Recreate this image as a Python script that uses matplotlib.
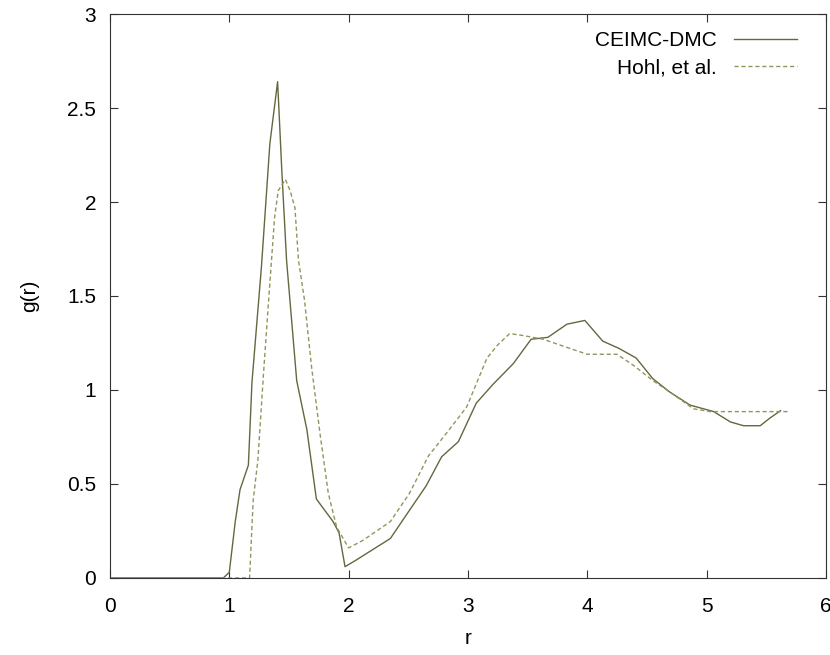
import matplotlib.pyplot as plt

plt.rcParams['font.family'] = ['Liberation Sans', 'DejaVu Sans']

# CEIMC-DMC g(r)
r_dmc = [0.0, 0.95, 1.0, 1.05, 1.09, 1.16, 1.19, 1.27, 1.34, 1.405, 1.44, 1.48,
         1.565, 1.65, 1.73, 1.87, 1.92, 1.97, 2.05, 2.15, 2.35, 2.51, 2.65, 2.78,
         2.92, 3.07, 3.21, 3.38, 3.53, 3.67, 3.83, 3.98, 4.13, 4.27, 4.41, 4.55,
         4.69, 4.86, 5.06, 5.2, 5.31, 5.45, 5.53, 5.62]
g_dmc = [0.0, 0.0, 0.03, 0.3, 0.47, 0.6, 1.04, 1.66, 2.31, 2.64, 2.17, 1.69,
         1.05, 0.79, 0.42, 0.3, 0.24, 0.06, 0.09, 0.13, 0.21, 0.36, 0.49, 0.645,
         0.725, 0.93, 1.03, 1.14, 1.27, 1.28, 1.35, 1.37, 1.26, 1.22, 1.17, 1.06,
         0.99, 0.92, 0.885, 0.83, 0.81, 0.81, 0.85, 0.89]

# Hohl et al.
r_hohl = [0.0, 1.17, 1.20, 1.24, 1.285, 1.33, 1.38, 1.41, 1.47, 1.51, 1.55, 1.58,
          1.63, 1.69, 1.76, 1.83, 1.90, 2.0, 2.12, 2.35, 2.51, 2.67, 2.82, 2.99,
          3.16, 3.25, 3.35, 3.46, 3.63, 3.86, 4.0, 4.25, 4.39, 4.55, 4.69, 4.89,
          5.03, 5.70]
g_hohl = [0.0, 0.0, 0.41, 0.63, 1.07, 1.48, 1.92, 2.06, 2.12, 2.06, 1.97, 1.69,
          1.48, 1.12, 0.77, 0.45, 0.27, 0.16, 0.2, 0.3, 0.45, 0.65, 0.77, 0.91,
          1.17, 1.24, 1.30, 1.29, 1.27, 1.22, 1.19, 1.19, 1.13, 1.05, 0.99, 0.90,
          0.885, 0.885]

fig = plt.figure(figsize=(8.3, 6.55), dpi=100)
ax = fig.add_axes([0.1325, 0.1176, 0.8625, 0.861])

ax.plot(r_dmc, g_dmc, color='#66663f', lw=1.0, label='CEIMC-DMC')
ax.plot(r_hohl, g_hohl, color='#94945e', lw=1.0, ls=(0, (3, 2)), label='Hohl, et al.')

ax.set_xlim(0, 6)
ax.set_ylim(0, 3)
ax.set_xticks(range(7))
ax.set_yticks([0, 0.5, 1, 1.5, 2, 2.5, 3])
ax.set_yticklabels(['0', '0.5', '1', '1.5', '2', '2.5', '3'])
ax.tick_params(direction='in', top=True, right=True, length=6, labelsize=15,
               color='#333333')
ax.tick_params(axis='x', pad=14)
ax.tick_params(axis='y', pad=10)
for s in ax.spines.values():
    s.set_color('#333333')

ax.set_xlabel('r', fontsize=15, labelpad=9)
ax.set_ylabel('g(r)', fontsize=15, labelpad=20)

ax.legend(loc='upper right', bbox_to_anchor=(0.9595, 0.97), frameon=False,
          markerfirst=False, fontsize=15, handlelength=3.0, handletextpad=0.85,
          labelspacing=0.42, borderpad=0, borderaxespad=0)

fig.savefig('out.png', dpi=100)
